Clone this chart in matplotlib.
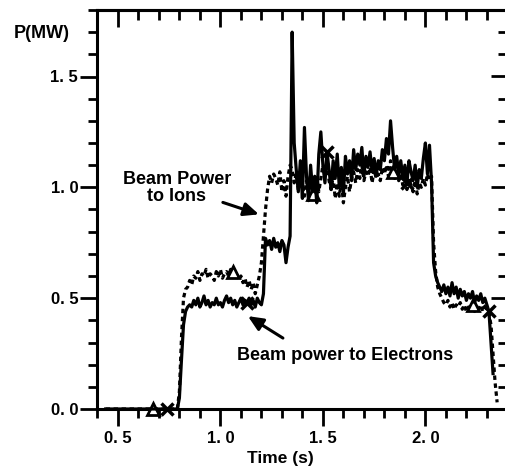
import numpy as np
import matplotlib.pyplot as plt
from matplotlib.ticker import MultipleLocator, FuncFormatter

plt.rcParams['font.family'] = ['Liberation Sans', 'DejaVu Sans']
plt.rcParams['font.weight'] = 'bold'

# beam-off period (both channels zero)
t_off = [0.44, 0.67, 0.74, 0.79]
p_off = [0.0, 0.0, 0.0, 0.0]

# sampled every 10 ms starting at 0.80 s
t_start = 0.80
dt = 0.01

p_electrons = [
    0.05, 0.22, 0.38, 0.44, 0.46, 0.47, 0.46, 0.49, 0.47, 0.50,
    0.46, 0.48, 0.51, 0.47, 0.49, 0.46, 0.48, 0.47, 0.50, 0.47,
    0.48, 0.46, 0.49, 0.51, 0.48, 0.50, 0.47, 0.49, 0.46, 0.48,
    0.50, 0.47, 0.49, 0.48, 0.50, 0.47, 0.49, 0.46, 0.50, 0.48,
    0.47, 0.52, 0.77, 0.74, 0.76, 0.72, 0.77, 0.73, 0.75, 0.71,
    0.76, 0.74, 0.66, 0.73, 0.78, 1.70, 1.20, 1.08, 0.98, 1.12,
    0.95, 1.27, 1.05, 0.94, 1.10, 0.98, 1.05, 0.93, 1.15, 1.25,
    1.10, 1.02, 1.16, 1.08, 0.99, 1.12, 1.04, 1.15, 1.00, 1.09,
    0.97, 1.14, 1.06, 1.12, 1.03, 1.17, 1.08, 1.15, 1.10, 1.18,
    1.05, 1.14, 1.09, 1.16, 1.07, 1.13, 1.05, 1.12, 1.08, 1.17,
    1.12, 1.22, 1.15, 1.30, 1.18, 1.08, 1.14, 1.06, 1.12, 1.04,
    1.10, 1.02, 1.12, 1.07, 1.03, 1.10, 1.00, 1.08, 1.04, 1.13,
    1.20, 1.06, 1.19, 1.02, 0.66, 0.60, 0.57, 0.55, 0.53, 0.56,
    0.52, 0.55, 0.51, 0.57, 0.52, 0.55, 0.50, 0.54, 0.51, 0.53,
    0.49, 0.52, 0.50, 0.53, 0.48, 0.51, 0.49, 0.52, 0.48, 0.50,
    0.47, 0.44, 0.30, 0.16,
]

p_ions = [
    0.08, 0.32, 0.50, 0.54, 0.55, 0.58, 0.56, 0.60, 0.59, 0.62,
    0.58, 0.61, 0.60, 0.63, 0.59, 0.61, 0.60, 0.58, 0.62, 0.60,
    0.63, 0.59, 0.61, 0.62, 0.60, 0.63, 0.62, 0.60, 0.61, 0.58,
    0.60, 0.57, 0.59, 0.55, 0.58, 0.54, 0.57, 0.52, 0.56, 0.60,
    0.66, 0.78, 0.90, 0.99, 1.05, 1.02, 1.06, 1.04, 1.01, 1.07,
    0.98, 1.03, 0.96, 1.05, 1.10, 1.08, 1.02, 1.06, 0.99, 1.04,
    1.00, 0.96, 1.03, 0.98, 1.06, 0.97, 1.02, 1.05, 0.98, 1.04,
    1.10, 1.06, 1.12, 1.03, 0.99, 1.05, 0.95, 1.02, 0.96, 1.03,
    0.93, 1.00, 1.05, 0.98, 1.04, 1.07, 1.02, 1.08, 1.04, 1.10,
    1.03, 1.07, 1.05, 1.09, 1.02, 1.08, 1.04, 1.06, 1.03, 1.09,
    1.06, 1.10, 1.05, 1.12, 1.07, 1.04, 1.08, 1.03, 1.06, 1.01,
    1.05, 0.99, 1.04, 1.01, 0.98, 1.03, 0.97, 1.02, 1.00, 1.04,
    1.01, 1.06, 1.03, 1.05, 0.75, 0.62, 0.55, 0.52, 0.50, 0.48,
    0.47, 0.49, 0.46, 0.48, 0.45, 0.47, 0.46, 0.48, 0.45, 0.47,
    0.44, 0.46, 0.45, 0.47, 0.44, 0.46, 0.45, 0.47, 0.44, 0.46,
    0.45, 0.43, 0.38, 0.25, 0.12, 0.03,
]

ion_marks = [0.67, 1.06, 1.45, 1.84, 2.23]
elec_marks = [0.74, 1.13, 1.52, 1.91, 2.31]


def series(p):
    t = t_start + dt * np.arange(len(p))
    return np.concatenate([t_off, t]), np.concatenate([p_off, p])


def mark_idx(t, marks):
    return [int(np.argmin(np.abs(t - m))) for m in marks]


te, pe = series(p_electrons)
ti, pi = series(p_ions)

fig = plt.figure(figsize=(5.06, 4.68), dpi=100)
# right edge of the frame sits just past the figure border
ax = fig.add_axes([97 / 506, 1 - 409 / 468, 411 / 506, 399 / 468])

ax.plot(ti, pi, color='black', lw=2.3, ls=(0, (1.4, 1.1)),
        marker='^', markevery=mark_idx(ti, ion_marks), ms=8,
        mfc='white', mec='black', mew=2.0, clip_on=False, zorder=3)
ax.plot(te, pe, color='black', lw=2.3,
        marker='x', markevery=mark_idx(te, elec_marks), ms=9,
        mec='black', mew=2.5, clip_on=False, zorder=4)

ax.set_xlim(0.398, 2.403)
ax.set_ylim(0.0, 1.8)

fmt = FuncFormatter(lambda v, pos: f"{v:.1f}".replace('.', '. '))
ax.xaxis.set_major_locator(MultipleLocator(0.5))
ax.xaxis.set_minor_locator(MultipleLocator(0.1))
ax.yaxis.set_major_locator(MultipleLocator(0.5))
ax.yaxis.set_minor_locator(MultipleLocator(0.1))
ax.xaxis.set_major_formatter(fmt)
ax.yaxis.set_major_formatter(fmt)

ax.tick_params(which='both', direction='out', width=2.0, labelsize=12,
               top=False, right=False)
ax.tick_params(which='major', length=12.5)
ax.tick_params(which='minor', length=6.5)
ax.tick_params(axis='x', pad=3)
ax.tick_params(axis='y', pad=1)
for lab in ax.get_xticklabels() + ax.get_yticklabels():
    lab.set_fontweight('bold')

for side in ['left', 'bottom', 'top', 'right']:
    ax.spines[side].set_linewidth(2.2)

# inward ticks on the top and right edges
sx = ax.secondary_xaxis('top')
sx.xaxis.set_major_locator(MultipleLocator(0.5))
sx.xaxis.set_minor_locator(MultipleLocator(0.1))
sx.tick_params(which='both', direction='in', width=2.0, labeltop=False)
sx.tick_params(which='major', length=12.5)
sx.tick_params(which='minor', length=7)
sx.spines['top'].set_linewidth(2.2)

sy = ax.secondary_yaxis('right')
sy.yaxis.set_major_locator(MultipleLocator(0.5))
sy.yaxis.set_minor_locator(MultipleLocator(0.1))
sy.tick_params(which='both', direction='in', width=2.0, labelright=False)
sy.tick_params(which='major', length=12)
sy.tick_params(which='minor', length=7)

fig.text(14 / 506, 1 - 33 / 468, 'P(MW)', fontsize=13, fontweight='bold',
         ha='left', va='center')
fig.text(280 / 506, 1 - 458 / 468, 'Time (s)', fontsize=12.5,
         fontweight='bold', ha='center', va='center')

arrow = dict(arrowstyle='-|>,head_length=0.9,head_width=0.4',
             color='black', lw=2.2, shrinkA=0, shrinkB=0)
ax.annotate('', xy=(1.188, 0.878), xytext=(1.012, 0.932), arrowprops=arrow)
ax.text(0.788, 0.995, 'Beam Power\nto Ions', fontsize=13, fontweight='bold',
        ha='center', va='center', linespacing=1.0)

ax.annotate('', xy=(1.134, 0.419), xytext=(1.305, 0.320), arrowprops=arrow)
ax.text(1.607, 0.243, 'Beam power to Electrons', fontsize=13,
        fontweight='bold', ha='center', va='center')

fig.savefig('out.png', dpi=100)
